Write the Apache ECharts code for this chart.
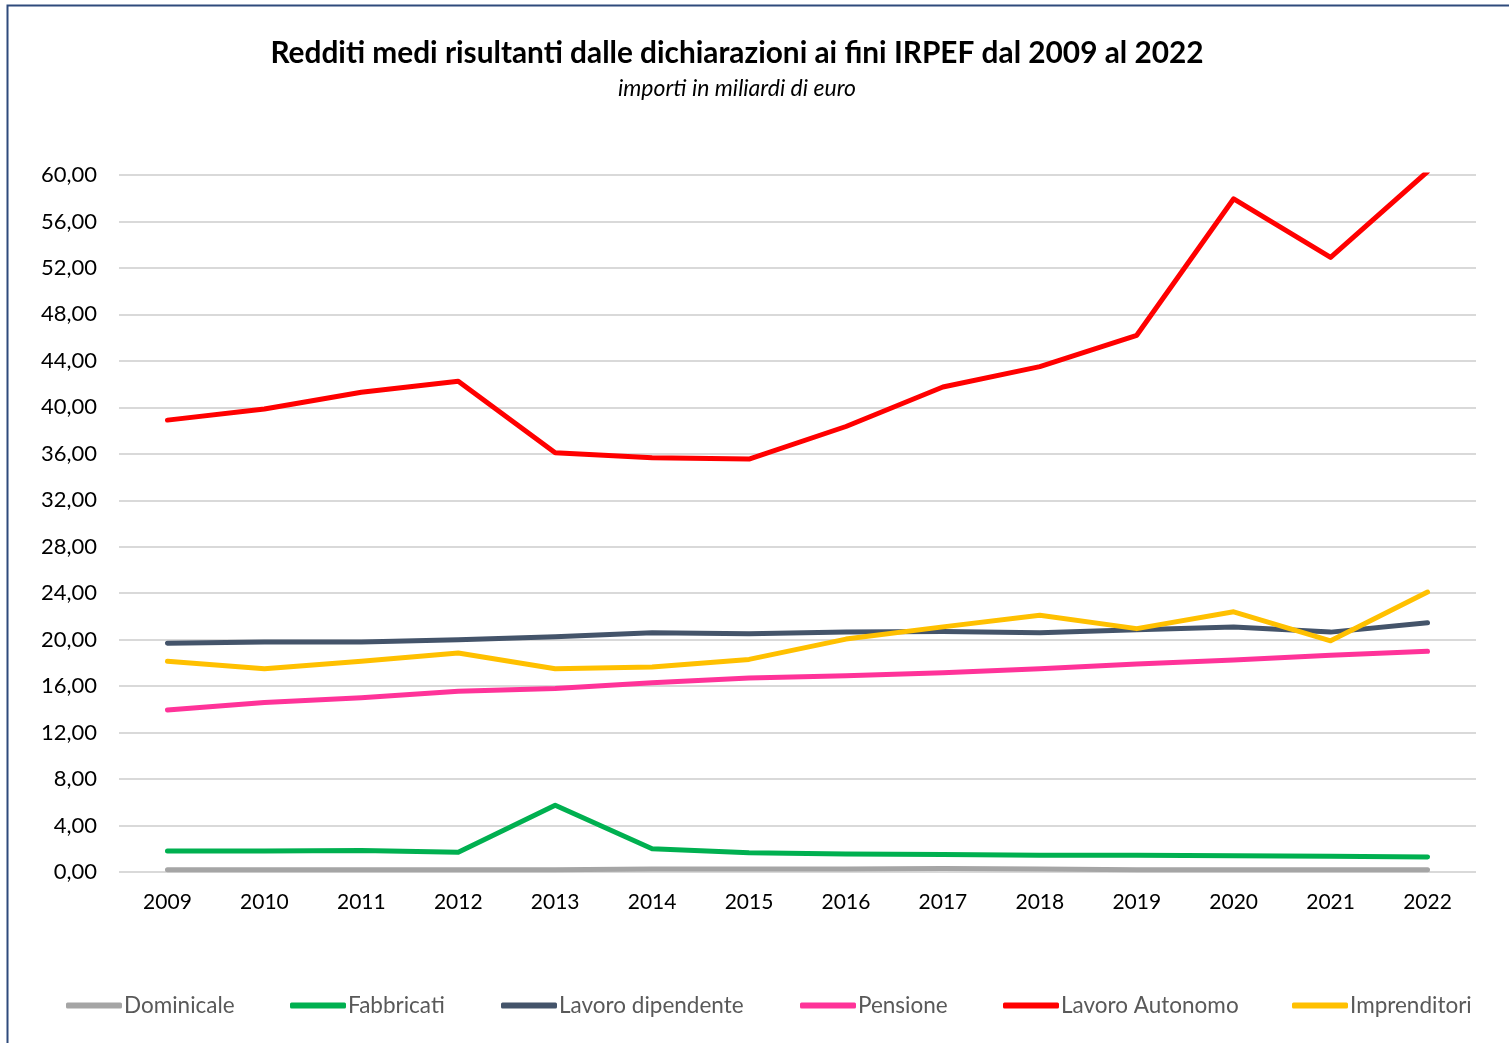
<!DOCTYPE html>
<html>
<head>
<meta charset="utf-8">
<script src="https://cdn.jsdelivr.net/npm/echarts@6/dist/echarts.min.js"></script>
<style>
  html, body { margin: 0; padding: 0; background: #fff; }
  #chart { width: 1509px; height: 1043px; }
</style>
</head>
<body>
<div id="chart"></div>
<script>
// Anni d'imposta
const anni = ['2009','2010','2011','2012','2013','2014','2015','2016','2017','2018','2019','2020','2021','2022'];

// Redditi medi per tipologia
const dominicale = [0.2, 0.2, 0.2, 0.2, 0.2, 0.25, 0.25, 0.25, 0.3, 0.25, 0.2, 0.2, 0.2, 0.2];
const fabbricati = [1.8, 1.8, 1.85, 1.7, 5.75, 2.0, 1.65, 1.55, 1.5, 1.45, 1.45, 1.4, 1.35, 1.3];
const lavoroDipendente = [19.7, 19.8, 19.8, 20.0, 20.25, 20.6, 20.5, 20.65, 20.7, 20.6, 20.85, 21.1, 20.65, 21.45];
const pensione = [13.95, 14.6, 15.0, 15.55, 15.8, 16.3, 16.7, 16.9, 17.15, 17.5, 17.9, 18.25, 18.65, 19.0];
const lavoroAutonomo = [38.9, 39.85, 41.3, 42.25, 36.1, 35.65, 35.55, 38.35, 41.75, 43.5, 46.2, 57.95, 52.9, 60.3];
const imprenditori = [18.15, 17.5, 18.15, 18.85, 17.5, 17.65, 18.3, 20.05, 21.1, 22.1, 20.95, 22.4, 19.9, 24.1];

const serie = [
  { name: 'Dominicale', data: dominicale, color: '#A5A5A5' },
  { name: 'Fabbricati', data: fabbricati, color: '#00B050' },
  { name: 'Lavoro dipendente', data: lavoroDipendente, color: '#44546A' },
  { name: 'Pensione', data: pensione, color: '#FF3399' },
  { name: 'Lavoro Autonomo', data: lavoroAutonomo, color: '#FF0000' },
  { name: 'Imprenditori', data: imprenditori, color: '#FFC000' }
];

// Left edge of each legend entry along the bottom row
const legendLeft = [66, 290, 501, 800, 1003, 1292];

const FONT = 'Lato, "Open Sans", sans-serif';
const chart = echarts.init(document.getElementById('chart'), null, { renderer: 'canvas' });

chart.setOption({
  backgroundColor: '#ffffff',
  animation: false,
  textStyle: { fontFamily: FONT },
  graphic: [{
    type: 'rect',
    shape: { x: 7.5, y: 5.5, width: 1520, height: 1060 },
    style: { fill: 'none', stroke: '#2F4B7C', lineWidth: 2 },
    silent: true
  }],
  title: {
    text: 'Redditi medi risultanti dalle dichiarazioni ai fini IRPEF dal 2009 al 2022',
    subtext: 'importi in miliardi di euro',
    left: 732,
    textAlign: 'center',
    top: 33,
    itemGap: 9,
    textStyle: { fontFamily: FONT, fontSize: 29.8, fontWeight: 'bold', color: '#000000' },
    subtextStyle: { fontFamily: FONT, fontSize: 23, fontStyle: 'italic', color: '#000000' }
  },
  legend: serie.map((s, i) => ({
    bottom: 26,
    left: legendLeft[i],
    padding: 0,
    itemWidth: 56,
    itemHeight: 6,
    icon: 'roundRect',
    textStyle: { fontFamily: FONT, fontSize: 22.5, color: '#595959', padding: [0, 0, 0, -3] },
    data: [{ name: s.name, itemStyle: { color: s.color } }]
  })),
  grid: { left: 119, right: 33, top: 175, bottom: 171, containLabel: false },
  xAxis: {
    type: 'category',
    data: anni,
    boundaryGap: true,
    axisLine: { show: false },
    axisTick: { show: false },
    axisLabel: { fontFamily: FONT, fontSize: 21, color: '#000000', margin: 20 }
  },
  yAxis: {
    type: 'value',
    min: 0,
    max: 60,
    interval: 4,
    axisLine: { show: false },
    axisTick: { show: false },
    splitLine: { lineStyle: { color: '#D9D9D9', width: 2 } },
    axisLabel: {
      fontFamily: FONT, fontSize: 22, color: '#000000', margin: 22,
      formatter: v => v.toFixed(2).replace('.', ',')
    }
  },
  series: serie.map(s => ({
    name: s.name,
    type: 'line',
    data: s.data,
    symbol: 'none',
    clip: true,
    color: s.color,
    lineStyle: { color: s.color, width: 5, cap: 'round', join: 'round' }
  }))
});
</script>
</body>
</html>
